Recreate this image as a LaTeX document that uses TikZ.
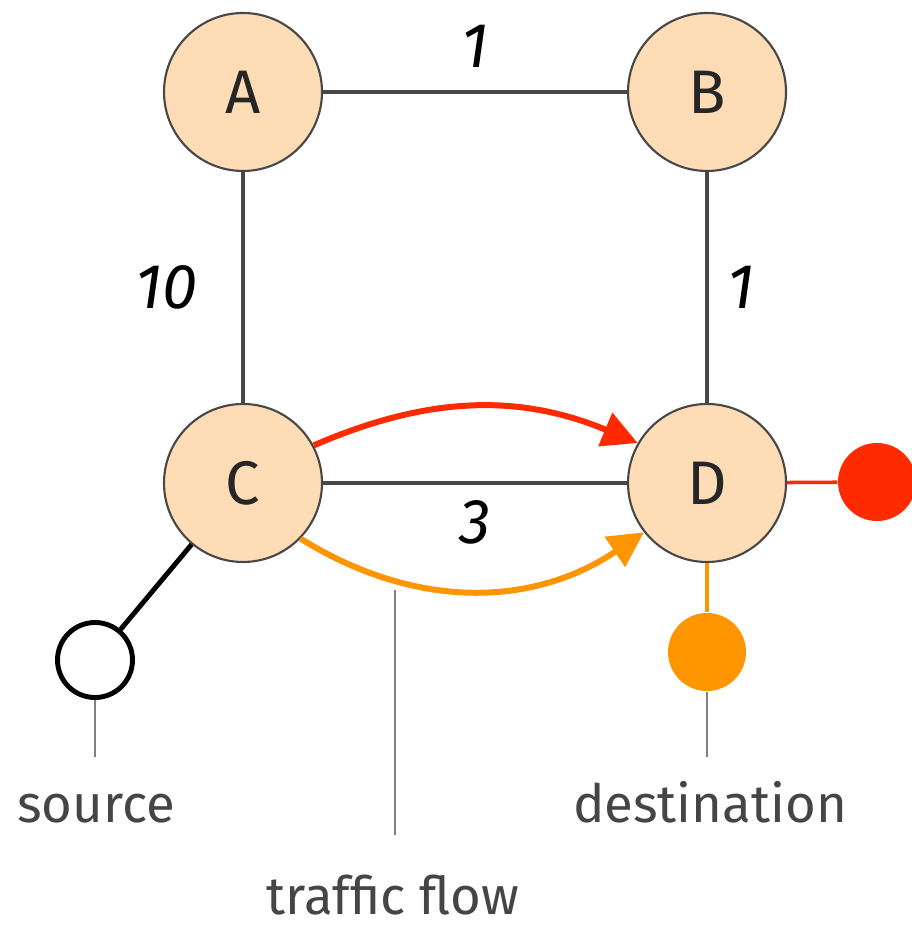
\documentclass[tikz,border=0pt]{standalone}
\usepackage{fontspec}
\setmainfont{Fira Sans}
\usepackage{tikz}
\usetikzlibrary{arrows.meta}

\definecolor{peach}{HTML}{FDDCB6}
\definecolor{edgegray}{HTML}{474747}
\definecolor{flowred}{HTML}{FF2A00}
\definecolor{floworange}{HTML}{FF9500}
\definecolor{labelgray}{HTML}{454545}

\tikzset{
  router/.style={circle, draw=edgegray, line width=0.6pt, fill=peach,
    minimum size=1.58cm, inner sep=0pt, text=black!85, font=\fontsize{17.5}{20}\selectfont},
  link/.style={draw=edgegray, line width=1.15pt},
  weight/.style={font=\fontsize{18}{20}\selectfont\itshape},
  flow/.style={line width=1.7pt, -{Triangle[length=10pt,width=10pt]}},
  dot/.style={circle, inner sep=0pt, minimum size=0.78cm},
  leader/.style={draw=gray, line width=0.6pt},
  caption/.style={text=labelgray, font=\fontsize{15}{18}\selectfont, anchor=base}
}

\begin{document}
\begin{tikzpicture}
  \useasboundingbox (0,0) rectangle (9.11,-9.25);

  % the four routers
  \node[router] (A) at (2.43,-0.92) {A};
  \node[router] (B) at (7.07,-0.92) {B};
  \node[router] (C) at (2.43,-4.83) {C};
  \node[router] (D) at (7.07,-4.83) {D};

  % end points
  \node[dot, draw=black, line width=1.4pt, fill=white, minimum size=0.75cm] (src) at (0.95,-6.60) {};
  \node[dot, fill=floworange] (dsto) at (7.07,-6.52) {};
  \node[dot, fill=flowred] (dstr) at (8.77,-4.82) {};

  % captions
  \node[caption] (srclabel) at (0.96,-8.22) {source};
  \node[caption] (dstlabel) at (7.10,-8.22) {destination};
  \node[caption] (flowlabel) at (3.93,-9.14) {traffic flow};
  \coordinate (srcend) at (0.95,-7.57);
  \coordinate (dstend) at (7.07,-7.57);
  \coordinate (flow) at (3.95,-5.90);
  \coordinate (flowend) at (3.95,-8.35);

  % leader lines
  \draw[leader] (src) -- (srcend);
  \draw[leader] (dsto) -- (dstend);
  \draw[leader] (flow) -- (flowend);

  % links with their weights
  \draw[link] (A) -- node[weight, above=3pt] {1} (B);
  \draw[link] (A) -- node[weight, left=9pt] {10} (C);
  \draw[link] (B) -- node[weight, right=2pt] {1} (D);
  \draw[link] (C) -- node[weight, below=1pt] {3} (D);

  % attachments
  \draw[line width=1.4pt] (C) -- (src);
  \draw[floworange, line width=1.1pt] (D) -- (dsto);
  \draw[flowred, line width=1pt] (D) -- (dstr);

  % traffic flows from C to D
  \draw[flow, flowred] (C.28) to[bend left=23] (D.150);
  \draw[flow, floworange] (C.-44) to[bend right=33] (D.218);
\end{tikzpicture}
\end{document}
